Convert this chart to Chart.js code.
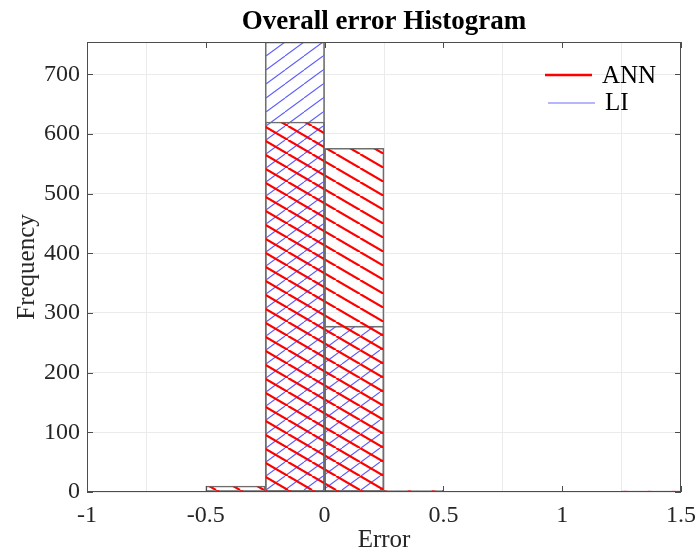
<!DOCTYPE html>
<html>
<head>
<meta charset="utf-8">
<title>Overall error Histogram</title>
<script src="https://cdn.jsdelivr.net/npm/chart.js@4.4.1/dist/chart.umd.min.js"></script>
<style>
  html, body { margin: 0; padding: 0; background: #ffffff; }
  #wrap { width: 697px; height: 556px; }
</style>
</head>
<body>
<div id="wrap"><canvas id="errorHist" width="697" height="556"></canvas></div>
<script>
// Histogram bins (width 0.25) and counts
const binCenters = [-0.875, -0.625, -0.375, -0.125, 0.125, 0.375, 0.625, 0.875, 1.125, 1.375];
const annCounts = [1, 1, 10, 620, 576, 3, 1, 0, 0, 2];
const liCounts = [0, 0, 2, 754, 278, 2, 0, 0, 0, 0];
const xTicks = [-1, -0.5, 0, 0.5, 1, 1.5];
const yTicks = [0, 100, 200, 300, 400, 500, 600, 700];
const seriesNames = ["ANN", "LI"];

const serif = "'Liberation Serif', 'Times New Roman', serif";

// Hatch fill: one diagonal line per tile, tile repeats seamlessly
function makeHatch(color, lineWidth, w, h, down) {
  const tile = document.createElement("canvas");
  tile.width = w;
  tile.height = h;
  const c = tile.getContext("2d");
  c.strokeStyle = color;
  c.lineWidth = lineWidth;
  for (let k = -1; k <= 1; k++) {
    c.beginPath();
    if (down) {
      c.moveTo(k * w, 0);
      c.lineTo(k * w + w, h);
    } else {
      c.moveTo(k * w, h);
      c.lineTo(k * w + w, 0);
    }
    c.stroke();
  }
  return c.createPattern(tile, "repeat");
}

const annHatch = makeHatch("#ff0000", 2.2, 24, 14, true);
const liHatch = makeHatch("#5c5cff", 1.1, 19, 14, false);

function toPoints(values) {
  return binCenters.map((x, i) => ({ x: x, y: values[i] }));
}

// Box, inward ticks and legend (MATLAB style)
const frameAndLegend = {
  id: "frameAndLegend",
  afterDraw(chart) {
    const { ctx, chartArea: a, scales } = chart;
    ctx.save();
    ctx.strokeStyle = "#4d4d4d";
    ctx.lineWidth = 1;
    ctx.strokeRect(Math.round(a.left) + 0.5, Math.round(a.top) + 0.5,
      Math.round(a.width) - 1, Math.round(a.height) - 1);

    ctx.beginPath();
    xTicks.forEach(function (v) {
      const px = Math.round(scales.x.getPixelForValue(v)) + 0.5;
      ctx.moveTo(px, a.bottom); ctx.lineTo(px, a.bottom - 6);
      ctx.moveTo(px, a.top); ctx.lineTo(px, a.top + 6);
    });
    yTicks.forEach(function (v) {
      const py = Math.round(scales.y.getPixelForValue(v)) + 0.5;
      ctx.moveTo(a.left, py); ctx.lineTo(a.left + 6, py);
      ctx.moveTo(a.right, py); ctx.lineTo(a.right - 6, py);
    });
    ctx.stroke();

    // legend
    ctx.font = "25px " + serif;
    ctx.fillStyle = "#000000";
    ctx.textBaseline = "middle";
    ctx.textAlign = "left";

    ctx.strokeStyle = "#ff0000";
    ctx.lineWidth = 2.5;
    ctx.beginPath();
    ctx.moveTo(545, 75); ctx.lineTo(592, 75);
    ctx.stroke();
    ctx.fillText(seriesNames[0], 602, 76);

    ctx.strokeStyle = "#6e6eff";
    ctx.lineWidth = 1.2;
    ctx.beginPath();
    ctx.moveTo(548, 103); ctx.lineTo(595, 103);
    ctx.stroke();
    ctx.fillText(seriesNames[1], 605, 103);
    ctx.restore();
  }
};

document.addEventListener("DOMContentLoaded", function () {
  const ctx = document.getElementById("errorHist").getContext("2d");

  const chart = new Chart(ctx, {
    type: "bar",
    data: {
      datasets: [
        {
          label: seriesNames[0],
          data: toPoints(annCounts),
          backgroundColor: annHatch,
          borderColor: "#6e6e6e",
          borderWidth: 1,
          borderSkipped: false,
        },
        {
          label: seriesNames[1],
          data: toPoints(liCounts),
          backgroundColor: liHatch,
          borderColor: "#6e6e6e",
          borderWidth: 1,
          borderSkipped: false,
        },
      ],
    },
    options: {
      responsive: false,
      animation: false,
      devicePixelRatio: 1,
      grouped: false,
      barPercentage: 1,
      categoryPercentage: 1,
      layout: { padding: { left: 0, right: 16, top: 0, bottom: 0 } },
      plugins: {
        legend: { display: false },
        tooltip: { enabled: false },
        title: {
          display: true,
          text: "Overall error Histogram",
          fullSize: false,
          color: "#000000",
          font: { family: serif, size: 27, weight: "bold", lineHeight: 1.2 },
          padding: { top: 6, bottom: 3.6 },
        },
      },
      scales: {
        x: {
          type: "linear",
          min: -1,
          max: 1.5,
          offset: false,
          afterBuildTicks: function (scale) {
            scale.ticks = xTicks.map((v) => ({ value: v }));
          },
          afterFit: function (scale) {
            scale.height = 64;
            scale.paddingLeft = 0;
            scale.paddingRight = 0;
          },
          ticks: {
            color: "#262626",
            padding: 9,
            maxRotation: 0,
            font: { family: serif, size: 24 },
            callback: (v) => String(v),
          },
          grid: { color: "#ebebeb", drawTicks: false },
          border: { display: false },
          title: {
            display: true,
            text: "Error",
            color: "#262626",
            font: { family: serif, size: 25, lineHeight: 1.2 },
            padding: { top: 0, bottom: 1 },
          },
        },
        y: {
          min: 0,
          max: 754,
          afterBuildTicks: function (scale) {
            scale.ticks = yTicks.map((v) => ({ value: v }));
          },
          afterFit: function (scale) {
            scale.width = 87;
            scale.paddingTop = 0;
            scale.paddingBottom = 0;
          },
          ticks: {
            color: "#262626",
            padding: 7,
            font: { family: serif, size: 24 },
          },
          grid: { color: "#ebebeb", drawTicks: false },
          border: { display: false },
          title: {
            display: true,
            text: "Frequency",
            color: "#262626",
            font: { family: serif, size: 25, lineHeight: 1.2 },
            padding: { top: 12, bottom: 0 },
          },
        },
      },
    },
    plugins: [frameAndLegend],
  });
});
</script>
</body>
</html>
